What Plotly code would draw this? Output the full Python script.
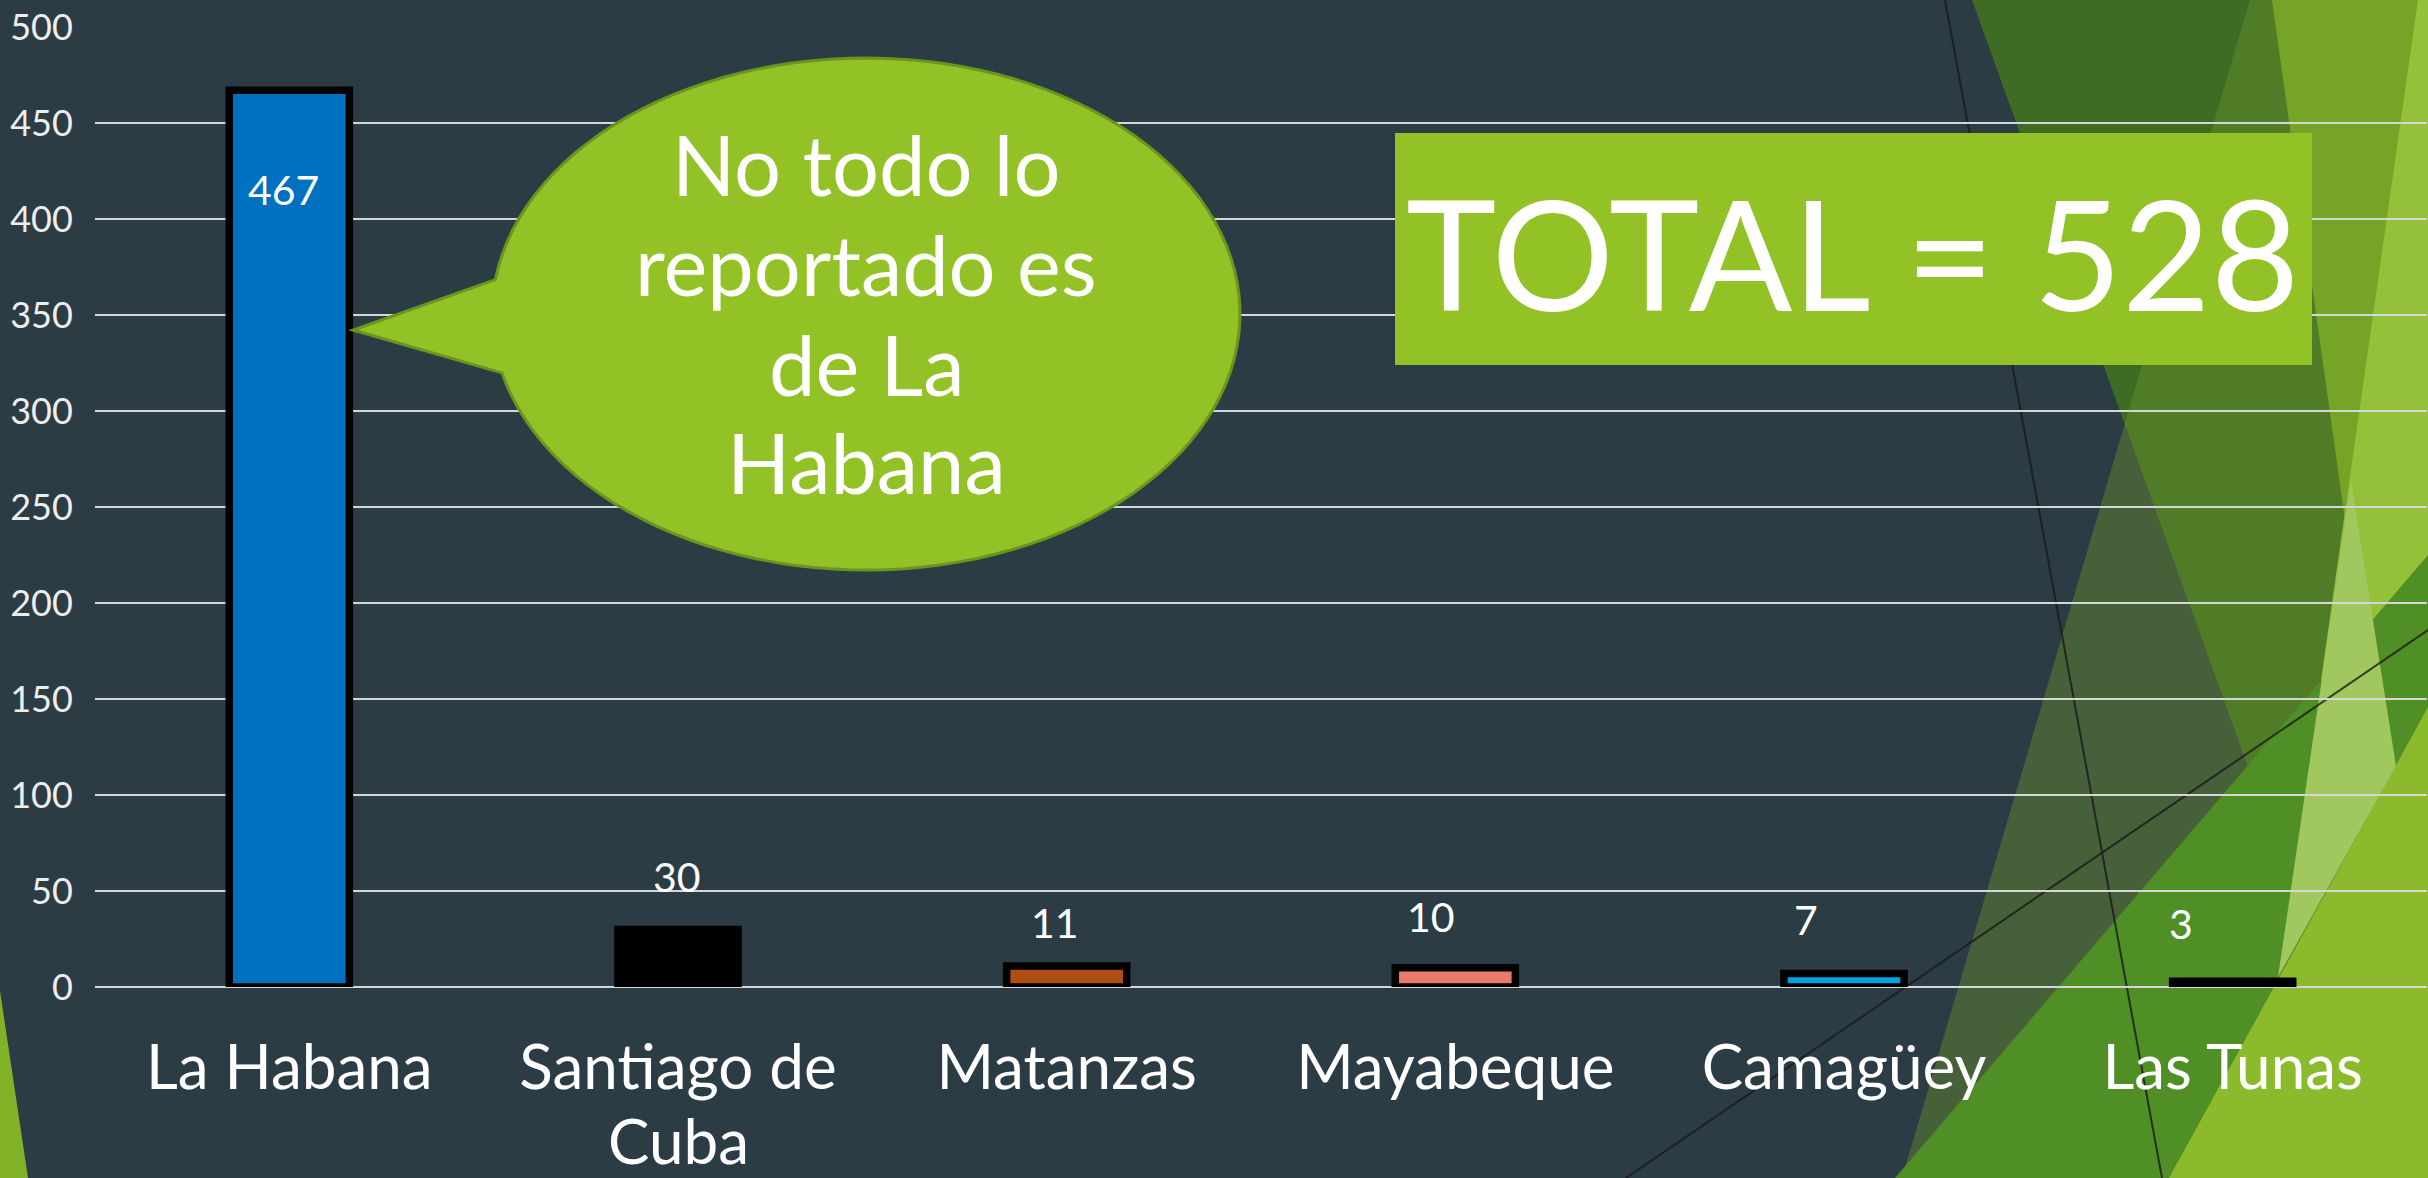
import numpy as np
import plotly.graph_objects as go

# ---------------- data ----------------
categories = ["La Habana", "Santiago de Cuba", "Matanzas", "Mayabeque", "Camagüey", "Las Tunas"]
# first line of each category label on the axis; wrapped remainder drawn just below
tick_first = ["La Habana", "Santiago de", "Matanzas", "Mayabeque", "Camagüey", "Las Tunas"]
tick_second = ["", "Cuba", "", "", "", ""]
values = [467, 30, 11, 10, 7, 3]
bar_colors = ["#0070C0", "#000000", "#AE4E12", "#E9796B", "#00A3E1", "#000000"]
y_ticks = [0, 50, 100, 150, 200, 250, 300, 350, 400, 450, 500]
callout_lines = ["No todo lo", "reportado es", "de La", "Habana"]
total_label = "TOTAL = " + str(sum(values))

# value label nudges (pixels)
label_xshift = [-6, -1, -12, -24, -38, -52]
label_yshift = [-99, 53, 43, 51, 54, 58]

# ---------------- geometry helpers ----------------
W, H = 2428, 1178
ML, MR, MT, MB = 95, 1, 27, 191
PW = W - ML - MR
PH = H - MT - MB
BASE = H - MB


def P(x, y):
    return (x - ML) / PW, (BASE - y) / PH


def poly(points):
    s = ""
    for i, (x, y) in enumerate(points):
        px, py = P(x, y)
        s += ("M" if i == 0 else "L") + f"{px:.5f},{py:.5f} "
    return s + "Z"


BG = "#2C3C44"
FONT = "Lato"
CAT_SIZE = 62

fig = go.Figure()
fig.add_trace(go.Bar(
    x=categories, y=values, width=0.309,
    marker=dict(color=bar_colors, line=dict(color="#000000", width=7.5)),
    hoverinfo="skip",
))

shapes = []
# decorative background facets (below grid)
deco = [
    ([(1972, 0), (2428, 0), (2428, 1178), (2396, 1178)], "rgb(62,108,35)", 1),
    ([(2250, 0), (2428, 0), (2428, 1178), (1902, 1178)], "rgb(110,150,45)", 0.4),
    ([(2272, 0), (2420, 0), (2345, 520)], "rgb(118,164,39)", 1),
    ([(2418, 0), (2428, 0), (2428, 1178), (2250, 1178)], "rgb(147,194,58)", 1),
    ([(1895, 1178), (2428, 555), (2428, 1178)], "rgb(80,142,38)", 1),
    ([(2169, 1178), (2428, 707), (2428, 1178)], "rgb(139,187,45)", 1),
    ([(2351, 481), (2396, 766), (2278, 977)], "rgb(160,200,95)", 1),
    ([(0, 991), (28, 1178), (0, 1178)], "rgb(130,178,40)", 1),
]
for pts, col, op in deco:
    shapes.append(dict(type="path", path=poly(pts), fillcolor=col, opacity=op,
                       line=dict(width=0), layer="below", xref="paper", yref="paper"))
for (x0, y0), (x1, y1) in [((1945, 0), (2162, 1178)), ((1626, 1178), (2428, 630))]:
    a0, b0 = P(x0, y0)
    a1, b1 = P(x1, y1)
    shapes.append(dict(type="line", x0=a0, y0=b0, x1=a1, y1=b1, xref="paper", yref="paper",
                       line=dict(color="rgba(25,25,25,0.8)", width=2), layer="below"))

# callout bubble
cx, cy, rx, ry = 866, 314, 374, 256
a_start = np.deg2rad(187.7)
a_end = np.deg2rad(166.7 + 360)
angs = np.linspace(a_start, a_end, 120)
pts = [(cx + rx * np.cos(a), cy + ry * np.sin(a)) for a in angs]
pts.append((353, 330))
shapes.append(dict(type="path", path=poly(pts), fillcolor="rgb(146,194,38)",
                   line=dict(color="rgb(104,150,30)", width=3), layer="above",
                   xref="paper", yref="paper"))

# TOTAL box
x0, y0 = P(1395, 133)
x1, y1 = P(2312, 365)
shapes.append(dict(type="rect", x0=x0, y0=y1, x1=x1, y1=y0, xref="paper", yref="paper",
                   fillcolor="rgb(146,194,38)", line=dict(width=0), layer="above"))

annotations = []
for c, v, dx, dy in zip(categories, values, label_xshift, label_yshift):
    annotations.append(dict(x=c, y=v, xref="x", yref="y", text=str(v), showarrow=False,
                            xshift=dx, yshift=dy, font=dict(family=FONT, size=41, color="white"),
                            xanchor="center", yanchor="middle"))

for line_text, ly in zip(callout_lines, [164, 264, 364, 462]):
    ax, ay = P(866, ly)
    annotations.append(dict(x=ax, y=ay, xref="paper", yref="paper", text=line_text,
                            showarrow=False, font=dict(family=FONT, size=83, color="white"),
                            xanchor="center", yanchor="middle"))

# wrapped second lines of category labels
for c, t2 in zip(categories, tick_second):
    if t2:
        _, ay = P(0, 1140)
        annotations.append(dict(x=c, y=ay, xref="x", yref="paper", text=t2, showarrow=False,
                                font=dict(family=FONT, size=CAT_SIZE, color="white"),
                                xanchor="center", yanchor="middle"))

tx, ty = P(1853, 252)
annotations.append(dict(x=tx, y=ty, xref="paper", yref="paper", text=total_label, showarrow=False,
                        font=dict(family=FONT, size=153, color="white"),
                        xanchor="center", yanchor="middle"))

fig.update_layout(
    width=W, height=H,
    margin=dict(l=ML, r=MR, t=MT, b=MB, pad=0, autoexpand=False),
    paper_bgcolor=BG, plot_bgcolor="rgba(0,0,0,0)",
    showlegend=False,
    font=dict(family=FONT, color="white"),
    shapes=shapes, annotations=annotations,
    xaxis=dict(type="category", tickvals=categories, ticktext=tick_first, range=[-0.5, 5.5],
               showgrid=False, showline=False, zeroline=False, automargin=False,
               ticks="outside", ticklen=27, tickcolor="rgba(0,0,0,0)",
               tickfont=dict(family=FONT, size=CAT_SIZE, color="white"), fixedrange=True),
    yaxis=dict(range=[0, 500], tickvals=y_ticks, showgrid=True, gridcolor="#D6D6D6", gridwidth=1.5,
               zeroline=True, zerolinecolor="#D6D6D6", zerolinewidth=1.5, showline=False,
               automargin=False,
               ticks="outside", ticklen=14, tickcolor="rgba(0,0,0,0)",
               tickfont=dict(family=FONT, size=36, color="#EDEDED"), fixedrange=True),
)

fig.write_html("out.html")
